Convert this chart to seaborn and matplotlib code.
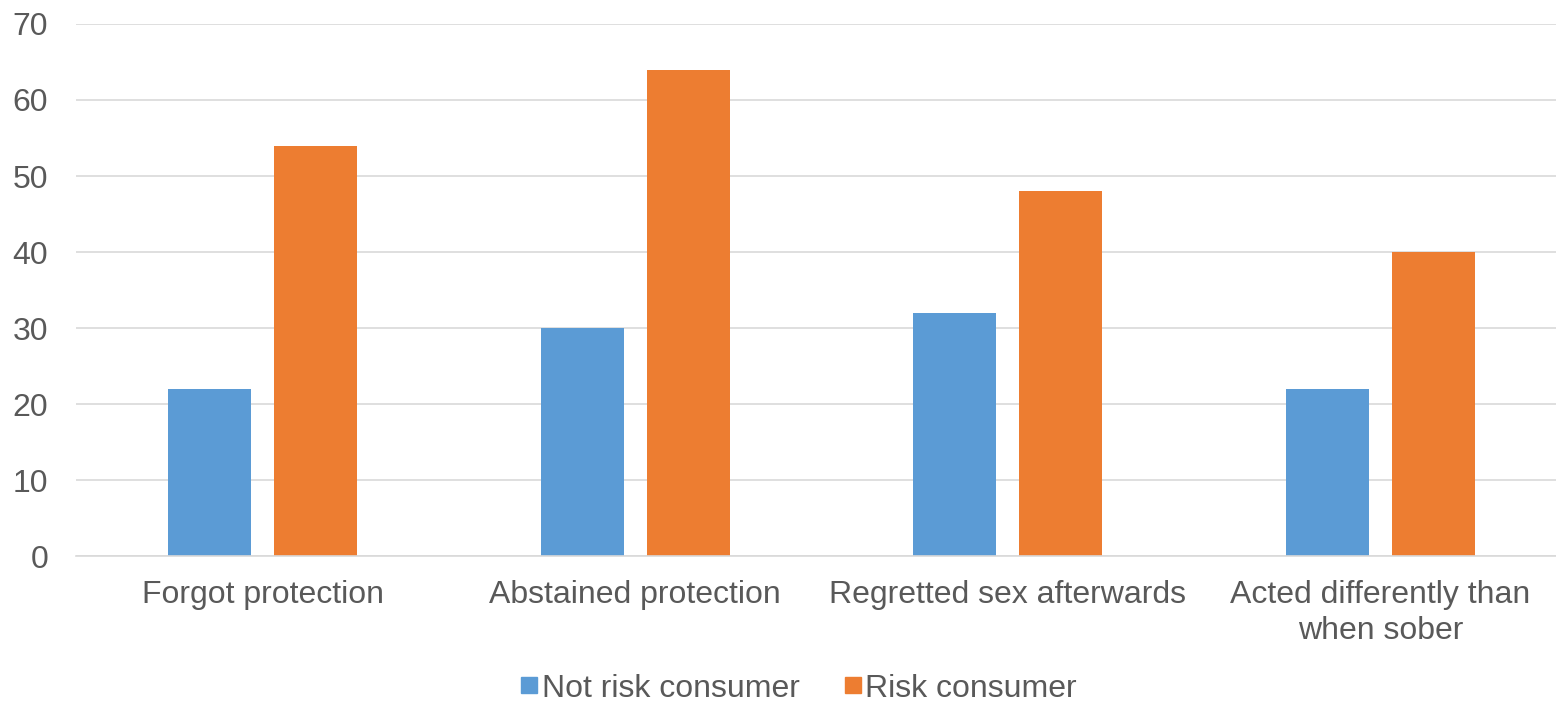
import pandas as pd
import matplotlib
matplotlib.use("Agg")
import matplotlib.pyplot as plt
import seaborn as sns
from matplotlib.lines import Line2D

# dados
categorias = ["Forgot protection", "Abstained protection",
              "Regretted sex afterwards", "Acted differently than\nwhen sober"]
nao_risco = [22, 30, 32, 22]
risco = [54, 64, 48, 40]
grupos = ["Not risk consumer", "Risk consumer"]
cores = ["#5B9BD5", "#ED7D31"]

df = pd.DataFrame({
    "categoria": categorias * 2,
    "valor": nao_risco + risco,
    "grupo": [grupos[0]] * 4 + [grupos[1]] * 4,
})

sns.set_style("white")
plt.rcParams["font.family"] = ["Liberation Sans", "DejaVu Sans"]
texto = "#595959"

fig = plt.figure(figsize=(15.56, 7.04), dpi=100)
ax = fig.add_axes([0.0488, 0.21, 0.9512, 0.756])

sns.barplot(data=df, x="categoria", y="valor", hue="grupo", palette=cores,
            width=0.569, gap=0.217, order=categorias, hue_order=grupos,
            ax=ax, legend=False, saturation=1, linewidth=0)

ax.set_xlim(-0.5007, 3.471)
ax.set_ylim(0, 70)
ax.set_yticks(range(0, 71, 10))
ax.yaxis.grid(True, color="#D9D9D9", linewidth=1.2)
ax.set_axisbelow(True)
for s in ["top", "right", "left"]:
    ax.spines[s].set_visible(False)
ax.spines["bottom"].set_color("#D9D9D9")
ax.spines["bottom"].set_linewidth(1.2)
ax.set_xlabel("")
ax.set_ylabel("")
ax.tick_params(axis="both", length=0, labelsize=23, labelcolor=texto)
ax.tick_params(axis="x", pad=17)
ax.tick_params(axis="y", pad=20)
for lab in ax.get_xticklabels():
    lab.set_linespacing(1.25)

handles = [Line2D([], [], marker="s", linestyle="", markersize=11,
                  markerfacecolor=c, markeredgecolor=c) for c in cores]
leg = fig.legend(handles, grupos, loc="center", bbox_to_anchor=(0.5125, 0.022),
                 ncol=2, frameon=False, fontsize=23, handletextpad=0.05,
                 columnspacing=1.3, handlelength=0.7)
for t in leg.get_texts():
    t.set_color(texto)

fig.savefig("out.png", dpi=100)
